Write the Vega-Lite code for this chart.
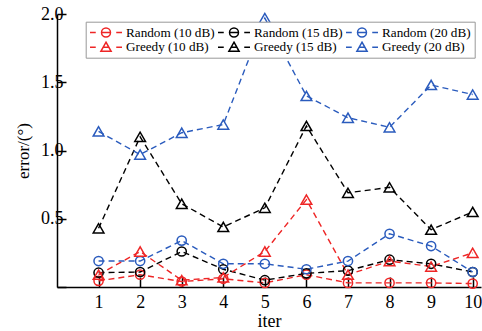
{
  "$schema": "https://vega.github.io/schema/vega-lite/v6.json",
  "width": 424,
  "height": 273,
  "autosize": {"type": "none"},
  "padding": {"left": 57, "top": 14, "right": 1, "bottom": 44},
  "config": {
    "view": {"stroke": null},
    "font": "Liberation Serif",
    "axis": {
      "labelFont": "Liberation Serif",
      "titleFont": "Liberation Serif",
      "labelFontSize": 18,
      "titleFontSize": 18,
      "titleFontWeight": "normal",
      "labelColor": "#000",
      "titleColor": "#000",
      "domainColor": "#000",
      "tickColor": "#000",
      "domainWidth": 1.5,
      "tickWidth": 1.5,
      "grid": false
    }
  },
  "data": {
    "values": [
      {"iter": 1, "value": 0.045, "series": "Random (10 dB)", "method": "Random"},
      {"iter": 2, "value": 0.09, "series": "Random (10 dB)", "method": "Random"},
      {"iter": 3, "value": 0.04, "series": "Random (10 dB)", "method": "Random"},
      {"iter": 4, "value": 0.06, "series": "Random (10 dB)", "method": "Random"},
      {"iter": 5, "value": 0.03, "series": "Random (10 dB)", "method": "Random"},
      {"iter": 6, "value": 0.09, "series": "Random (10 dB)", "method": "Random"},
      {"iter": 7, "value": 0.03, "series": "Random (10 dB)", "method": "Random"},
      {"iter": 8, "value": 0.03, "series": "Random (10 dB)", "method": "Random"},
      {"iter": 9, "value": 0.03, "series": "Random (10 dB)", "method": "Random"},
      {"iter": 10, "value": 0.025, "series": "Random (10 dB)", "method": "Random"},
      {"iter": 1, "value": 0.105, "series": "Random (15 dB)", "method": "Random"},
      {"iter": 2, "value": 0.11, "series": "Random (15 dB)", "method": "Random"},
      {"iter": 3, "value": 0.26, "series": "Random (15 dB)", "method": "Random"},
      {"iter": 4, "value": 0.13, "series": "Random (15 dB)", "method": "Random"},
      {"iter": 5, "value": 0.05, "series": "Random (15 dB)", "method": "Random"},
      {"iter": 6, "value": 0.10, "series": "Random (15 dB)", "method": "Random"},
      {"iter": 7, "value": 0.12, "series": "Random (15 dB)", "method": "Random"},
      {"iter": 8, "value": 0.20, "series": "Random (15 dB)", "method": "Random"},
      {"iter": 9, "value": 0.17, "series": "Random (15 dB)", "method": "Random"},
      {"iter": 10, "value": 0.11, "series": "Random (15 dB)", "method": "Random"},
      {"iter": 1, "value": 0.19, "series": "Random (20 dB)", "method": "Random"},
      {"iter": 2, "value": 0.19, "series": "Random (20 dB)", "method": "Random"},
      {"iter": 3, "value": 0.34, "series": "Random (20 dB)", "method": "Random"},
      {"iter": 4, "value": 0.17, "series": "Random (20 dB)", "method": "Random"},
      {"iter": 5, "value": 0.17, "series": "Random (20 dB)", "method": "Random"},
      {"iter": 6, "value": 0.13, "series": "Random (20 dB)", "method": "Random"},
      {"iter": 7, "value": 0.19, "series": "Random (20 dB)", "method": "Random"},
      {"iter": 8, "value": 0.39, "series": "Random (20 dB)", "method": "Random"},
      {"iter": 9, "value": 0.30, "series": "Random (20 dB)", "method": "Random"},
      {"iter": 10, "value": 0.11, "series": "Random (20 dB)", "method": "Random"},
      {"iter": 1, "value": 0.09, "series": "Greedy (10 dB)", "method": "Greedy"},
      {"iter": 2, "value": 0.26, "series": "Greedy (10 dB)", "method": "Greedy"},
      {"iter": 3, "value": 0.05, "series": "Greedy (10 dB)", "method": "Greedy"},
      {"iter": 4, "value": 0.07, "series": "Greedy (10 dB)", "method": "Greedy"},
      {"iter": 5, "value": 0.26, "series": "Greedy (10 dB)", "method": "Greedy"},
      {"iter": 6, "value": 0.64, "series": "Greedy (10 dB)", "method": "Greedy"},
      {"iter": 7, "value": 0.09, "series": "Greedy (10 dB)", "method": "Greedy"},
      {"iter": 8, "value": 0.19, "series": "Greedy (10 dB)", "method": "Greedy"},
      {"iter": 9, "value": 0.15, "series": "Greedy (10 dB)", "method": "Greedy"},
      {"iter": 10, "value": 0.25, "series": "Greedy (10 dB)", "method": "Greedy"},
      {"iter": 1, "value": 0.43, "series": "Greedy (15 dB)", "method": "Greedy"},
      {"iter": 2, "value": 1.10, "series": "Greedy (15 dB)", "method": "Greedy"},
      {"iter": 3, "value": 0.61, "series": "Greedy (15 dB)", "method": "Greedy"},
      {"iter": 4, "value": 0.44, "series": "Greedy (15 dB)", "method": "Greedy"},
      {"iter": 5, "value": 0.58, "series": "Greedy (15 dB)", "method": "Greedy"},
      {"iter": 6, "value": 1.18, "series": "Greedy (15 dB)", "method": "Greedy"},
      {"iter": 7, "value": 0.69, "series": "Greedy (15 dB)", "method": "Greedy"},
      {"iter": 8, "value": 0.73, "series": "Greedy (15 dB)", "method": "Greedy"},
      {"iter": 9, "value": 0.42, "series": "Greedy (15 dB)", "method": "Greedy"},
      {"iter": 10, "value": 0.55, "series": "Greedy (15 dB)", "method": "Greedy"},
      {"iter": 1, "value": 1.14, "series": "Greedy (20 dB)", "method": "Greedy"},
      {"iter": 2, "value": 0.97, "series": "Greedy (20 dB)", "method": "Greedy"},
      {"iter": 3, "value": 1.13, "series": "Greedy (20 dB)", "method": "Greedy"},
      {"iter": 4, "value": 1.19, "series": "Greedy (20 dB)", "method": "Greedy"},
      {"iter": 5, "value": 1.97, "series": "Greedy (20 dB)", "method": "Greedy"},
      {"iter": 6, "value": 1.40, "series": "Greedy (20 dB)", "method": "Greedy"},
      {"iter": 7, "value": 1.24, "series": "Greedy (20 dB)", "method": "Greedy"},
      {"iter": 8, "value": 1.17, "series": "Greedy (20 dB)", "method": "Greedy"},
      {"iter": 9, "value": 1.48, "series": "Greedy (20 dB)", "method": "Greedy"},
      {"iter": 10, "value": 1.41, "series": "Greedy (20 dB)", "method": "Greedy"}
    ]
  },
  "encoding": {
    "x": {
      "field": "iter", "type": "quantitative",
      "scale": {"domain": [0, 10.2], "nice": false, "zero": false},
      "axis": {"title": "iter", "values": [1,2,3,4,5,6,7,8,9,10], "tickSize": -10, "labelPadding": 16, "titlePadding": 1}
    },
    "y": {
      "field": "value", "type": "quantitative",
      "scale": {"domain": [0, 2], "nice": false},
      "axis": {"title": "error/(°)", "titleFontSize": 17, "values": [0, 0.5, 1, 1.5, 2], "labelExpr": "datum.value == 0 ? '' : format(datum.value, '.1f')", "tickSize": -9, "labelPadding": 3, "titlePadding": 8}
    }
  },
  "layer": [
    {
      "mark": {"type": "line", "strokeDash": [6, 4], "strokeWidth": 1.4},
      "encoding": {
        "detail": {"field": "series"},
        "color": {
          "field": "series", "type": "nominal", "legend": null,
          "scale": {"domain": ["Random (10 dB)","Random (15 dB)","Random (20 dB)","Greedy (10 dB)","Greedy (15 dB)","Greedy (20 dB)"],
                    "range": ["#ee2626","#000000","#2a5bbd","#ee2626","#000000","#2a5bbd"]}
        }
      }
    },
    {
      "mark": {"type": "point", "filled": false, "strokeWidth": 1.5, "opacity": 1},
      "encoding": {
        "color": {
          "field": "series", "type": "nominal", "legend": null,
          "scale": {"domain": ["Random (10 dB)","Random (15 dB)","Random (20 dB)","Greedy (10 dB)","Greedy (15 dB)","Greedy (20 dB)"],
                    "range": ["#ee2626","#000000","#2a5bbd","#ee2626","#000000","#2a5bbd"]}
        },
        "shape": {
          "field": "method", "type": "nominal", "legend": null,
          "scale": {"domain": ["Random", "Greedy"], "range": ["circle", "triangle-up"]}
        },
        "size": {
          "field": "method", "type": "nominal", "legend": null,
          "scale": {"domain": ["Random", "Greedy"], "range": [85, 115]}
        }
      }
    },
    {
      "transform": [{"filter": "datum.value < -100"}],
      "mark": {"type": "point", "filled": false, "size": 1024, "strokeWidth": 1.5},
      "encoding": {
        "color": {
          "field": "series", "type": "nominal",
          "scale": {"domain": ["Random (10 dB)","Random (15 dB)","Random (20 dB)","Greedy (10 dB)","Greedy (15 dB)","Greedy (20 dB)"],
                    "range": ["#ee2626","#000000","#2a5bbd","#ee2626","#000000","#2a5bbd"]},
          "legend": {
            "title": null, "orient": "none", "legendX": 28.7, "legendY": 7.7,
            "columns": 3, "direction": "horizontal",
            "labelFont": "Liberation Serif", "labelFontSize": 13.2, "labelColor": "#000",
            "symbolSize": 1024, "symbolStrokeWidth": 1.5, "symbolOpacity": 1,
            "symbolOffset": 0, "labelOffset": 3, "clipHeight": 14.3,
            "columnPadding": 2, "rowPadding": 0,
            "padding": 3.3, "strokeColor": "#999", "fillColor": "#ffffff", "cornerRadius": 0
          }
        },
        "shape": {
          "field": "series", "type": "nominal",
          "scale": {"domain": ["Random (10 dB)","Random (15 dB)","Random (20 dB)","Greedy (10 dB)","Greedy (15 dB)","Greedy (20 dB)"],
                    "range": [
                      "M-1,0H-0.64M-0.28,0A0.28,0.28 0 1,1 0.28,0A0.28,0.28 0 1,1 -0.28,0ZM-0.28,0H0.28M0.64,0H1",
                      "M-1,0H-0.64M-0.28,0A0.28,0.28 0 1,1 0.28,0A0.28,0.28 0 1,1 -0.28,0ZM-0.28,0H0.28M0.64,0H1",
                      "M-1,0H-0.64M-0.28,0A0.28,0.28 0 1,1 0.28,0A0.28,0.28 0 1,1 -0.28,0ZM-0.28,0H0.28M0.64,0H1",
                      "M-1,0H-0.64M0,-0.31L0.32,0.26L-0.32,0.26ZM-0.17,0H0.17M0.64,0H1",
                      "M-1,0H-0.64M0,-0.31L0.32,0.26L-0.32,0.26ZM-0.17,0H0.17M0.64,0H1",
                      "M-1,0H-0.64M0,-0.31L0.32,0.26L-0.32,0.26ZM-0.17,0H0.17M0.64,0H1"
                    ]},
          "legend": {
            "title": null, "orient": "none", "legendX": 28.7, "legendY": 7.7,
            "columns": 3, "direction": "horizontal",
            "labelFont": "Liberation Serif", "labelFontSize": 13.2, "labelColor": "#000",
            "symbolSize": 1024, "symbolStrokeWidth": 1.5, "symbolOpacity": 1,
            "symbolOffset": 0, "labelOffset": 3, "clipHeight": 14.3,
            "columnPadding": 2, "rowPadding": 0,
            "padding": 3.3, "strokeColor": "#999", "fillColor": "#ffffff", "cornerRadius": 0
          }
        }
      }
    }
  ],
  "resolve": {"scale": {"color": "independent", "shape": "independent"}}
}
